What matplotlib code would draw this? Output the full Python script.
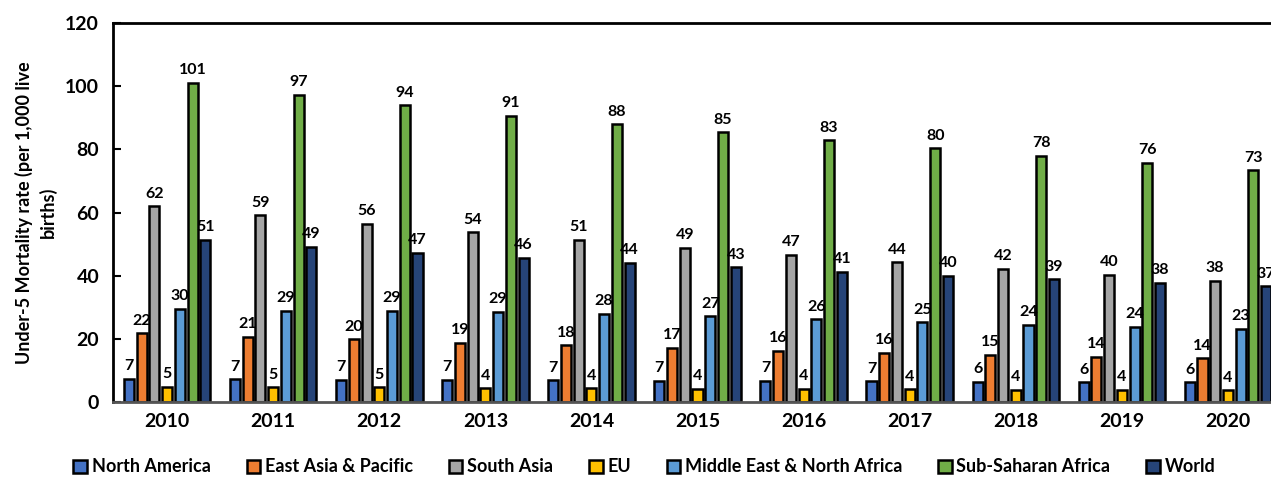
import matplotlib.pyplot as plt
import numpy as np

years = ['2010', '2011', '2012', '2013', '2014', '2015', '2016', '2017', '2018', '2019', '2020']
regions = ['North America', 'East Asia & Pacific', 'South Asia', 'EU',
           'Middle East & North Africa', 'Sub-Saharan Africa', 'World']
north_america = [7.3, 7.2, 7.1, 7.0, 6.9, 6.8, 6.7, 6.6, 6.4, 6.3, 6.2]
east_asia = [21.7, 20.7, 19.8, 18.8, 17.9, 17.1, 16.3, 15.6, 15.0, 14.4, 13.8]
south_asia = [61.9, 59.1, 56.4, 53.8, 51.3, 48.9, 46.6, 44.3, 42.1, 40.2, 38.4]
eu = [4.8, 4.7, 4.6, 4.4, 4.3, 4.2, 4.1, 4.0, 3.9, 3.8, 3.7]
mena = [29.6, 28.9, 28.9, 28.6, 28.0, 27.1, 26.2, 25.2, 24.4, 23.8, 23.2]
ssa = [101.0, 97.3, 93.9, 90.7, 88.0, 85.4, 82.8, 80.4, 78.0, 75.7, 73.4]
world = [51.3, 49.2, 47.3, 45.6, 44.0, 42.6, 41.3, 40.0, 38.8, 37.7, 36.6]

series = [north_america, east_asia, south_asia, eu, mena, ssa, world]
colors = ['#4472C4', '#ED7D31', '#A5A5A5', '#FFC000', '#5B9BD5', '#70AD47', '#264478']

plt.rcParams['font.family'] = ['Lato', 'DejaVu Sans']
plt.rcParams['font.weight'] = 'bold'

fig = plt.figure(figsize=(12.71, 4.78), dpi=100)
# axes deliberately runs past the right edge, like the cropped original
ax = fig.add_axes([113 / 1271, 1 - 402 / 478, 1168 / 1271, 379 / 478])

x = np.arange(len(years))
pitch = 0.12
width = 0.095
for i, (vals, col, name) in enumerate(zip(series, colors, regions)):
    bars = ax.bar(x + (i - 3) * pitch, vals, width, color=col, edgecolor='black',
                  linewidth=1.8, label=name)
    ax.bar_label(bars, labels=['%d' % round(v) for v in vals], padding=4,
                 fontsize=11.5, fontweight='bold')

ax.set_xlim(-0.51, 10.5)
ax.set_ylim(0, 120)
ax.set_yticks(range(0, 121, 20))
ax.set_xticks(x)
ax.set_xticklabels(years)
ax.tick_params(axis='y', direction='in', length=6, width=1.5, labelsize=14, pad=10)
ax.tick_params(axis='x', length=0, labelsize=14, pad=8)
for lab in ax.get_xticklabels() + ax.get_yticklabels():
    lab.set_fontweight('bold')
for s in ['top', 'left', 'bottom', 'right']:
    ax.spines[s].set_linewidth(2)
ax.spines['bottom'].set_color('#555555')

ax.set_ylabel('Under-5 Mortality rate (per 1,000 live\nbirths)', fontsize=13,
              fontweight='bold', labelpad=6, linespacing=1.4)

leg = fig.legend(loc='center', bbox_to_anchor=(0.507, 1 - 467 / 478), ncol=7,
                 frameon=False, fontsize=13, handlelength=0.75, handleheight=0.75,
                 handletextpad=0.25, columnspacing=2.0)
for t in leg.get_texts():
    t.set_fontweight('bold')
for h in leg.legend_handles:
    h.set_linewidth(1.8)

fig.savefig('out.png', dpi=100)
